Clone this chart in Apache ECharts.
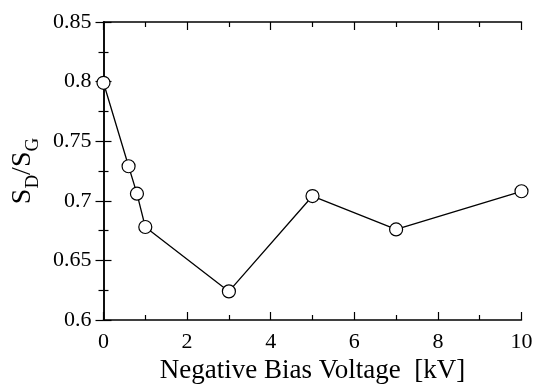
<!DOCTYPE html>
<html>
<head>
<meta charset="utf-8">
<script src="https://cdn.jsdelivr.net/npm/echarts@6/dist/echarts.min.js"></script>
<style>html,body{margin:0;padding:0;background:#fff}#c{width:533px;height:386px}</style>
</head>
<body>
<div id="c"></div>
<script>
var voltage = [0, 0.6, 0.8, 1, 3, 5, 7, 10];
var ratio = [0.799, 0.729, 0.706, 0.678, 0.624, 0.704, 0.676, 0.708];
var xTitle = 'Negative Bias Voltage  [kV]';

var FONT = '"Liberation Serif", "Times New Roman", serif';
var chart = echarts.init(document.getElementById('c'), null, {renderer: 'canvas'});
var axisCommon = {
  axisLine: {show: true, lineStyle: {color: '#000', width: 1.5}},
  axisTick: {show: true, inside: true, length: 8, lineStyle: {color: '#000', width: 1.2}},
  minorTick: {show: true, splitNumber: 2, length: 5, lineStyle: {color: '#000', width: 1.2}},
  splitLine: {show: false}
};
chart.setOption({
  animation: false,
  backgroundColor: '#fff',
  grid: {left: 103.5, right: 11.5, top: 22, bottom: 66, containLabel: false, outerBoundsMode: 'none'},
  xAxis: [
    Object.assign({
      type: 'value', min: 0, max: 10, interval: 2, position: 'bottom',
      axisLabel: {color: '#000', fontFamily: FONT, fontSize: 22, margin: 11},
      name: xTitle, nameLocation: 'middle', nameGap: 37,
      nameTextStyle: {color: '#000', fontFamily: FONT, fontSize: 27}
    }, axisCommon),
    Object.assign({
      type: 'value', min: 0, max: 10, interval: 2, position: 'top',
      axisLabel: {show: false}
    }, axisCommon)
  ],
  yAxis: [
    Object.assign({
      type: 'value', min: 0.6, max: 0.85, interval: 0.05, position: 'left',
      axisLabel: {color: '#000', fontFamily: FONT, fontSize: 22, margin: 12,
        formatter: function (v) { return String(+v.toFixed(3)); }},
      name: '{s|S}{sub|D}{s|/S}{sub|G}', nameLocation: 'middle', nameGap: 66, nameRotate: 90,
      nameTextStyle: {
        color: '#000', fontFamily: FONT,
        rich: {
          s: {fontFamily: FONT, fontSize: 28, color: '#000', verticalAlign: 'bottom', lineHeight: 30},
          sub: {fontFamily: FONT, fontSize: 19, color: '#000', verticalAlign: 'bottom', lineHeight: 30, padding: [0, 0, -5, 0]}
        }
      }
    }, axisCommon),
    Object.assign({
      type: 'value', min: 0.6, max: 0.85, interval: 0.05, position: 'right',
      axisLabel: {show: false}
    }, axisCommon)
  ],
  series: [{
    type: 'line',
    data: voltage.map(function (v, i) { return [v, ratio[i]]; }),
    symbol: 'circle', symbolSize: 13,
    itemStyle: {color: '#fff', borderColor: '#000', borderWidth: 1.2},
    lineStyle: {color: '#000', width: 1.3},
    clip: false
  }]
});
</script>
</body>
</html>
